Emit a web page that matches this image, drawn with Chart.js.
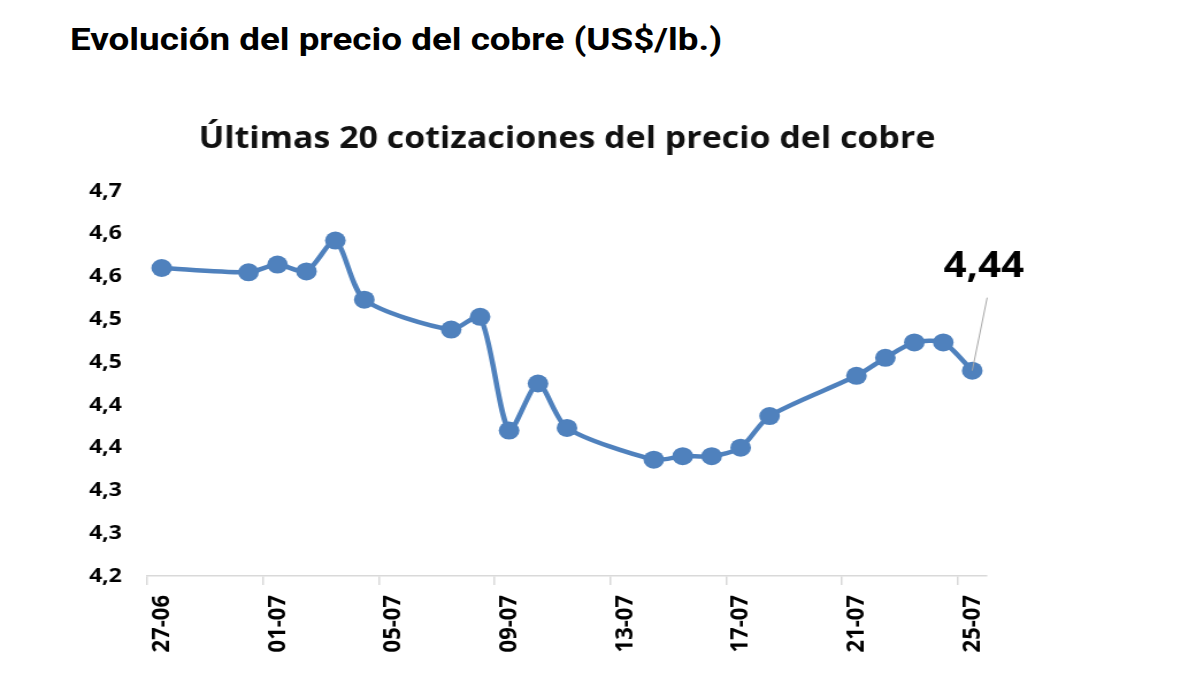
<!DOCTYPE html>
<html lang="es">
<head>
<meta charset="utf-8">
<title>Evolución del precio del cobre</title>
<script src="https://cdn.jsdelivr.net/npm/chart.js@4.4.1/dist/chart.umd.min.js"></script>
<style>
  html, body { margin: 0; padding: 0; background: #fff; overflow: hidden; }
  /* la imagen original está algo estirada en horizontal */
  .titulo {
    position: absolute; left: 70px; top: 19px; margin: 0;
    font-family: Roboto, "Noto Sans", sans-serif; font-weight: 700;
    font-size: 32px; line-height: 40px; color: #000; white-space: nowrap;
    transform: scaleX(1.15); transform-origin: 0 0;
  }
  .chart-wrap {
    position: absolute; left: 0; top: 0; width: 1044px; height: 700px;
    transform: scaleX(1.15); transform-origin: 0 0;
  }
</style>
</head>
<body>
<h1 class="titulo">Evolución del precio del cobre (US$/lb.)</h1>
<div class="chart-wrap"><canvas id="chart-cobre"></canvas></div>
<script>
'use strict';

/* ---------- datos ---------- */
const FECHAS = [
  '2022-06-27', '2022-06-30', '2022-07-01', '2022-07-02', '2022-07-03', '2022-07-04',
  '2022-07-07', '2022-07-08', '2022-07-09', '2022-07-10', '2022-07-11',
  '2022-07-14', '2022-07-15', '2022-07-16', '2022-07-17', '2022-07-18',
  '2022-07-21', '2022-07-22', '2022-07-23', '2022-07-24', '2022-07-25',
];
const PRECIOS = [
  4.560, 4.555, 4.564, 4.556, 4.592, 4.523,
  4.488, 4.503, 4.370, 4.425, 4.373,
  4.336, 4.340, 4.340, 4.350, 4.387,
  4.434, 4.455, 4.473, 4.473, 4.440,
];
const FECHAS_EJE_X = ['2022-06-27', '2022-07-01', '2022-07-05', '2022-07-09', '2022-07-13', '2022-07-17', '2022-07-21', '2022-07-25'];
const ETIQUETAS_X = ['27-06', '01-07', '05-07', '09-07', '13-07', '17-07', '21-07', '25-07'];
const ETIQUETAS_Y = ['4,2', '4,3', '4,3', '4,4', '4,4', '4,5', '4,5', '4,6', '4,6', '4,7'];
const Y_MIN = 4.20;
const Y_PASO = 0.05;

const AZUL = '#4f81bd';
const GRIS_EJE = '#d9d9d9';
const FUENTE = '"Open Sans", "Noto Sans", sans-serif';

/* días transcurridos desde la primera fecha */
const DIA0 = Date.parse(FECHAS[0]);
const toDia = (f) => Math.round((Date.parse(f) - DIA0) / 86400000);
const dias = FECHAS.map(toDia);
const diasEje = FECHAS_EJE_X.map(toDia);
const ultimoDia = toDia(FECHAS[FECHAS.length - 1]);

/* etiqueta del último valor con línea guía */
const ultimoValor = {
  id: 'ultimoValor',
  afterDatasetsDraw(chart) {
    const meta = chart.getDatasetMeta(0);
    const p = meta.data[meta.data.length - 1];
    if (!p) return;
    const ctx = chart.ctx;
    ctx.save();
    ctx.strokeStyle = '#a6a6a6';
    ctx.lineWidth = 1;
    ctx.beginPath();
    ctx.moveTo(p.x + 13, p.y - 73);
    ctx.lineTo(p.x, p.y);
    ctx.stroke();
    ctx.fillStyle = '#000';
    ctx.font = `700 35px ${FUENTE}`;
    ctx.textAlign = 'center';
    ctx.textBaseline = 'middle';
    ctx.fillText(PRECIOS[PRECIOS.length - 1].toFixed(2).replace('.', ','), p.x + 10, p.y - 104);
    ctx.restore();
  },
};

new Chart(document.getElementById('chart-cobre'), {
  type: 'line',
  data: {
    datasets: [{
      label: 'Precio del cobre',
      data: dias.map((d, i) => ({ x: d, y: PRECIOS[i] })),
      borderColor: AZUL,
      backgroundColor: AZUL,
      borderWidth: 4.5,
      pointRadius: 9,
      pointBorderWidth: 0,
      pointBackgroundColor: AZUL,
      tension: 0.25,
      fill: false,
    }],
  },
  options: {
    responsive: true,
    maintainAspectRatio: false,
    animation: false,
    layout: { padding: { left: 0, right: 186, top: 0, bottom: 0 } },
    plugins: {
      legend: { display: false },
      tooltip: { enabled: false },
      title: {
        display: true,
        fullSize: false,
        text: 'Últimas 20 cotizaciones del precio del cobre',
        color: '#111',
        font: { family: FUENTE, size: 29.5, weight: '700', lineHeight: 1.2 },
        padding: { top: 122, bottom: 33.6 },
      },
    },
    scales: {
      x: {
        type: 'linear',
        min: -0.5,
        max: ultimoDia + 0.5,
        afterBuildTicks: (s) => { s.ticks = diasEje.map((d) => ({ value: d - 0.5 })); },
        afterFit: (s) => { s.height = 124; },
        border: { display: true, color: GRIS_EJE, width: 1.5 },
        grid: { display: true, drawOnChartArea: false, drawTicks: true, tickLength: 9, color: GRIS_EJE, lineWidth: 1.5 },
        ticks: {
          autoSkip: false,
          maxRotation: 90,
          minRotation: 90,
          padding: 10,
          labelOffset: 12.6,
          color: '#000',
          font: { family: FUENTE, size: 22, weight: '700' },
          callback: (v) => ETIQUETAS_X[diasEje.indexOf(Math.round(v + 0.5))],
        },
      },
      y: {
        min: Y_MIN,
        max: Y_MIN + Y_PASO * (ETIQUETAS_Y.length - 1),
        afterBuildTicks: (s) => { s.ticks = ETIQUETAS_Y.map((_, i) => ({ value: Y_MIN + Y_PASO * i })); },
        afterFit: (s) => { s.width = 128; },
        border: { display: false },
        grid: { display: false, drawTicks: false },
        ticks: {
          padding: 22,
          color: '#000',
          font: { family: FUENTE, size: 20, weight: '700' },
          callback: (v, i) => ETIQUETAS_Y[i],
        },
      },
    },
  },
  plugins: [ultimoValor],
});
</script>
</body>
</html>
